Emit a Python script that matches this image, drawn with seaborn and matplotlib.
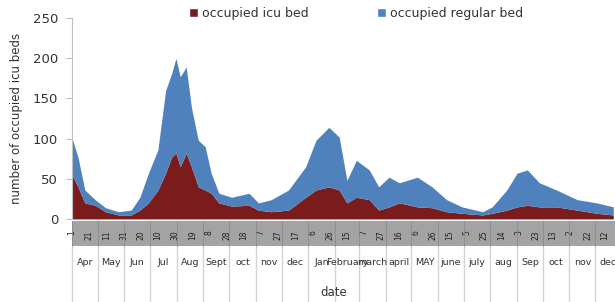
import pandas as pd
import seaborn as sns
import matplotlib
import matplotlib.pyplot as plt
from matplotlib.patches import Patch, Rectangle
import matplotlib.transforms as mtransforms

matplotlib.use("Agg")
sns.set_style("white")
plt.rcParams["font.family"] = ["DejaVu Sans"]

# values (beds)
dates = [
    "2020-04-01", "2020-04-08", "2020-04-16", "2020-04-28", "2020-05-10", "2020-05-25",
    "2020-06-09", "2020-06-19", "2020-06-29", "2020-07-10", "2020-07-19", "2020-07-26",
    "2020-07-31", "2020-08-05", "2020-08-12", "2020-08-18", "2020-08-26", "2020-09-03",
    "2020-09-10", "2020-09-19", "2020-10-04", "2020-10-24", "2020-11-04", "2020-11-19",
    "2020-12-09", "2020-12-29", "2021-01-10", "2021-01-25", "2021-02-06", "2021-02-15",
    "2021-02-26", "2021-03-13", "2021-03-24", "2021-04-05", "2021-04-17", "2021-05-08",
    "2021-05-25", "2021-06-11", "2021-06-29", "2021-07-23", "2021-08-03", "2021-08-20",
    "2021-09-01", "2021-09-13", "2021-09-27", "2021-10-17", "2021-11-10", "2021-12-03",
    "2021-12-22",
]
icu_beds = [
    55, 40, 20, 17, 9, 5,
    5, 11, 20, 36, 57, 77,
    82, 65, 82, 65, 40, 36,
    32, 20, 16, 17, 11, 9,
    11, 27, 36, 40, 36, 20,
    27, 24, 11, 15, 20, 15,
    14, 9, 7, 5, 7, 11,
    15, 17, 15, 15, 11, 7,
    5,
]
regular_beds = [
    46, 37, 16, 7, 5, 4,
    6, 16, 37, 50, 103, 104,
    118, 112, 107, 74, 58, 54,
    25, 12, 11, 15, 9, 15,
    25, 38, 62, 74, 66, 28,
    46, 37, 29, 37, 25, 37,
    26, 15, 8, 4, 8, 25,
    42, 44, 30, 21, 13, 13,
    10,
]
month_labels = [
    "Apr", "May", "Jun", "Jul", "Aug", "Sept", "oct", "nov", "dec",
    "Jan", "February", "march", "april", "MAY", "june", "july", "aug", "Sep", "oct", "nov", "dec",
]

start = pd.Timestamp("2020-04-01")
df = pd.DataFrame({"date": pd.to_datetime(dates), "icu": icu_beds, "regular": regular_beds})
df["day"] = (df["date"] - start).dt.days

icu_color = "#7B1C1C"
reg_color = "#4F81BD"

fig = plt.figure(figsize=(6.15, 3.02), dpi=100)
ax = fig.add_axes([0.117, 0.275, 0.883, 0.665])

ax.stackplot(df["day"], df["icu"], df["regular"], colors=[icu_color, reg_color], linewidth=0)

xmax = 632
ax.set_xlim(0, xmax)
ax.set_ylim(0, 250)
ax.set_yticks(range(0, 251, 50))
ax.tick_params(axis="y", labelsize=9.5, labelcolor="#333333", color="#bfbfbf", length=4,
               width=0.8, direction="out", left=True, pad=6)
ax.set_ylabel("number of occupied icu beds", fontsize=8.5, color="#333333")
ax.yaxis.set_label_coords(-0.09, 0.5)

for side in ["top", "right", "bottom"]:
    ax.spines[side].set_visible(False)
ax.spines["left"].set_color("#bfbfbf")

# grey band holding the day ticks
trans = mtransforms.blended_transform_factory(ax.transData, ax.transAxes)
ax.add_patch(Rectangle((0, -0.135), 1, 0.125, transform=ax.transAxes, facecolor="#a3a3a3",
                       edgecolor="none", clip_on=False, zorder=0.5))

tick_days = list(range(0, xmax, 20))
tick_labels = [str((start + pd.Timedelta(days=d)).day) for d in tick_days]
ax.set_xticks(tick_days)
ax.set_xticklabels(tick_labels, rotation=90, fontsize=5.5, color="#202020")
ax.tick_params(axis="x", bottom=True, labelbottom=True, length=0, pad=8)

# month boundaries and labels
month_starts = pd.date_range("2020-04-01", periods=len(month_labels) + 1, freq="MS")
bounds = [(m - start).days for m in month_starts]
for i, lab in enumerate(month_labels):
    x0, x1 = bounds[i], bounds[i + 1]
    ax.plot([x0, x0], [-0.135, -0.42], transform=trans, color="#d4d4d4", lw=1, clip_on=False)
    ax.plot([x0, x0], [-0.01, -0.135], transform=trans, color="#8c8c8c", lw=0.6, clip_on=False)
    ax.text((x0 + x1) / 2, -0.215, lab, transform=trans, ha="center", va="center",
            fontsize=6.8, color="#333333", clip_on=False)

fig.text(0.542, 0.033, "date", ha="center", va="center", fontsize=8.5, color="#333333")

handles = [Patch(facecolor=icu_color, label="occupied icu bed"),
           Patch(facecolor=reg_color, label="occupied regular bed")]
fig.legend(handles=handles, loc="upper center", bbox_to_anchor=(0.579, 1.015), ncol=2, frameon=False,
           fontsize=9, handlelength=0.7, handleheight=0.7, handletextpad=0.3, columnspacing=5.5,
           labelcolor="#333333")

fig.savefig("out.png", dpi=100)
